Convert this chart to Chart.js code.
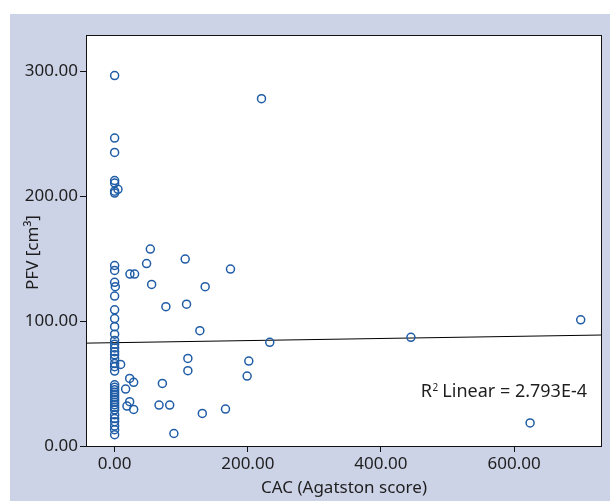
<!DOCTYPE html>
<html><head><meta charset="utf-8">
<script src="https://cdn.jsdelivr.net/npm/chart.js@4/dist/chart.umd.min.js"></script>
<style>html,body{margin:0;padding:0;background:#fff;} #wrap{width:610px;height:501px;position:relative;}</style>
</head><body><div id="wrap"><canvas id="c" width="610" height="501"></canvas></div>
<script>
// CAC (Agatston score) and PFV [cm3] pairs
const cac = [
  0,0,0,0,0,0,0,
  0,0,0,0,0,0,0,0,0,0,0,0,0,0,0,0,0,
  0,0,0,0,0,0,0,0,0,0,0,0,0,0,0,0,0,
  1,5,9,16.5,18.5,22.6,22.6,23,28.6,28.6,30,48,53.6,55.6,66.7,71.7,77,82.7,89,
  106,108,110,110,128,131.7,136,166.5,174,199,201.5,220.6,233,445,624,700
];
const pfv = [
  296.5,246.5,235,212.5,210.5,204,202.5,
  144.5,140.5,131,120,109,102,95.5,89.5,84.5,81.5,78.5,75.5,73,70,66,63.5,60,
  49,47,45,43,41,39,37,35,33,31,29,25,22,19.5,16,13,9,
  127.5,205.5,65.3,45.6,32,54.1,35.5,137.6,51,29.3,137.6,146,157.6,129.3,32.8,50.1,111.5,32.8,10,
  149.6,113.5,70.1,60.3,92.3,26.1,127.5,29.6,141.6,56,68,278,83,87,18.5,101
];
// Linear fit line end points
const fitX = [-43, 732];
const fitY = [82.35, 88.85];
const xTicks = [0, 200, 400, 600];
const yTicks = [0, 100, 200, 300];
const xRange = [-43, 732];
const yRange = [0, 329];
const r2Label = ['R', '2', ' Linear = 2.793E-4'];
const xTitle = 'CAC (Agatston score)';
const yTitle = 'PFV [cm³]';

const FONT = '"Noto Sans", "Open Sans", sans-serif';
const TXT = '#1e1e1e';

const points = cac.map((v, i) => ({x: v, y: pfv[i]}));
const fit = fitX.map((v, i) => ({x: v, y: fitY[i]}));

const frame = {
  id: 'frame',
  beforeDraw(chart) {
    const ctx = chart.ctx, a = chart.chartArea;
    ctx.save();
    ctx.fillStyle = '#ffffff';
    ctx.fillRect(0, 0, chart.width, chart.height);
    ctx.fillStyle = '#cdd3e7';
    ctx.fillRect(10, 14, chart.width - 10, chart.height - 14);
    ctx.fillStyle = '#ffffff';
    ctx.fillRect(a.left, a.top, a.right - a.left, a.bottom - a.top);
    ctx.restore();
  },
  afterDraw(chart) {
    const ctx = chart.ctx, a = chart.chartArea;
    ctx.save();
    ctx.strokeStyle = '#111';
    ctx.lineWidth = 1;
    ctx.strokeRect(a.left + 0.5, a.top + 0.5, a.right - a.left - 1, a.bottom - a.top);
    // y axis title
    ctx.save();
    ctx.fillStyle = TXT;
    ctx.font = '17px ' + FONT;
    ctx.textAlign = 'center';
    ctx.textBaseline = 'middle';
    ctx.translate(33, (a.top + a.bottom) / 2 + 12);
    ctx.rotate(-Math.PI / 2);
    ctx.fillText(yTitle, 0, 0);
    ctx.restore();
    // R^2 label
    const big = '18px ' + FONT, small = '10px ' + FONT;
    ctx.fillStyle = TXT;
    ctx.textBaseline = 'alphabetic';
    ctx.textAlign = 'left';
    ctx.font = big;
    const w1 = ctx.measureText(r2Label[0]).width;
    const w3 = ctx.measureText(r2Label[2]).width;
    ctx.font = small;
    const w2 = ctx.measureText(r2Label[1]).width;
    const xr = a.right - 15, yb = a.bottom - 49;
    let x0 = xr - (w1 + w2 + w3);
    ctx.font = big; ctx.fillText(r2Label[0], x0, yb);
    ctx.font = small; ctx.fillText(r2Label[1], x0 + w1 + 0.5, yb - 6);
    ctx.font = big; ctx.fillText(r2Label[2], x0 + w1 + w2, yb);
    ctx.restore();
  }
};

new Chart(document.getElementById('c'), {
  type: 'scatter',
  data: {
    datasets: [
      {
        data: points,
        pointStyle: 'circle',
        pointRadius: 4,
        pointHoverRadius: 4,
        borderColor: '#1f5ca6',
        backgroundColor: 'rgba(0,0,0,0)',
        borderWidth: 1.5,
        showLine: false
      },
      {
        type: 'line',
        data: fit,
        borderColor: '#000',
        borderWidth: 1,
        pointRadius: 0,
        fill: false
      }
    ]
  },
  options: {
    responsive: false,
    devicePixelRatio: 1,
    animation: false,
    events: [],
    layout: {padding: {left: 10, right: 8, top: 35, bottom: 0}},
    plugins: {legend: {display: false}, tooltip: {enabled: false}},
    scales: {
      x: {
        type: 'linear',
        min: xRange[0], max: xRange[1],
        afterFit(s) { s.height = 55; },
        afterBuildTicks(s) { s.ticks = xTicks.map(v => ({value: v})); },
        grid: {drawOnChartArea: false, drawTicks: true, tickLength: 6, color: '#111', lineWidth: 1},
        border: {display: false},
        ticks: {color: TXT, font: {family: FONT, size: 17}, padding: 2, maxRotation: 0,
          callback: v => Number(v).toFixed(2)},
        title: {display: true, text: xTitle, color: TXT, font: {family: FONT, size: 17}, padding: {top: 0, bottom: 3}}
      },
      y: {
        type: 'linear',
        min: yRange[0], max: yRange[1],
        afterFit(s) { s.width = 76; },
        afterBuildTicks(s) { s.ticks = yTicks.map(v => ({value: v})); },
        grid: {drawOnChartArea: false, drawTicks: true, tickLength: 6, color: '#111', lineWidth: 1},
        border: {display: false},
        ticks: {color: TXT, font: {family: FONT, size: 17}, padding: 2,
          callback: v => Number(v).toFixed(2)},
        title: {display: false}
      }
    }
  },
  plugins: [frame]
});
</script>
</body></html>
